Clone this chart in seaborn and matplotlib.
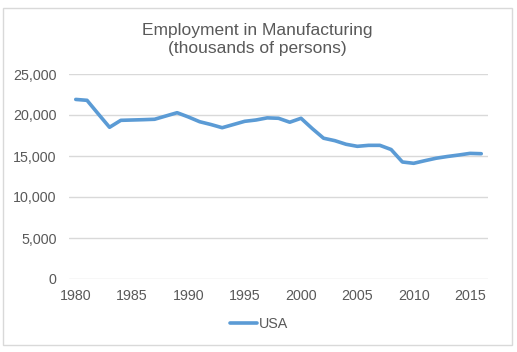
import matplotlib
matplotlib.use("Agg")
import matplotlib.pyplot as plt
from matplotlib.patches import Rectangle
from matplotlib.lines import Line2D
import seaborn as sns
import pandas as pd

years = list(range(1980, 2017))
usa = [21900, 21790, 20130, 18500, 19350, 19390, 19430, 19480, 19880, 20280,
       19760, 19180, 18840, 18450, 18840, 19230, 19390, 19650, 19600, 19120,
       19600, 18340, 17170, 16870, 16430, 16180, 16300, 16300, 15790, 14270,
       14110, 14430, 14730, 14940, 15120, 15320, 15280]
series_name = "USA"
title = "Employment in Manufacturing\n(thousands of persons)"
xticks = [1980, 1985, 1990, 1995, 2000, 2005, 2010, 2015]
yticks = [0, 5000, 10000, 15000, 20000, 25000]

df = pd.DataFrame({"Year": years, "Value": usa, "Series": series_name})

sns.set_style("white")
plt.rcParams["font.family"] = ["Liberation Sans", "DejaVu Sans"]

W, H = 517, 352
fig = plt.figure(figsize=(W / 100, H / 100), dpi=100)
fig.patch.set_facecolor("white")

# chart border
fig.patches.append(Rectangle((3 / W, 1 - 345 / H), 509 / W, 337 / H,
                             transform=fig.transFigure, fill=False,
                             edgecolor="#D9D9D9", linewidth=1))

left, right, top, bottom = 69, 488, 74, 279
ax = fig.add_axes([left / W, 1 - bottom / H, (right - left) / W, (bottom - top) / H])

sns.lineplot(data=df, x="Year", y="Value", hue="Series", palette=["#5B9BD5"],
             linewidth=2.6, ax=ax, legend=False)

ax.set_xlim(1979.4, 2016.6)
ax.set_ylim(0, 25000)
ax.set_xticks(xticks)
ax.set_xticklabels([str(x) for x in xticks])
ax.set_yticks(yticks)
ax.set_yticklabels([f"{v:,}" for v in yticks])
ax.set_xlabel("")
ax.set_ylabel("")
for s in ax.spines.values():
    s.set_visible(False)
ax.grid(axis="y", color="#D9D9D9", linewidth=1)
ax.set_axisbelow(True)
ax.tick_params(axis="both", length=0, labelsize=10.3, colors="#595959")
ax.tick_params(axis="x", pad=7)
ax.tick_params(axis="y", pad=9)

fig.text(257 / W, 1 - 39.5 / H, title, ha="center", va="center", fontsize=12.5,
         color="#595959", linespacing=1.2)

handle = Line2D([0], [0], color="#5B9BD5", linewidth=2.6)
fig.legend([handle], [series_name], loc="center", bbox_to_anchor=(259 / W, 1 - 324 / H),
           frameon=False, fontsize=10.3, handlelength=1.9, handletextpad=0.15,
           labelcolor="#595959")

fig.savefig("out.png", dpi=100, facecolor="white")
